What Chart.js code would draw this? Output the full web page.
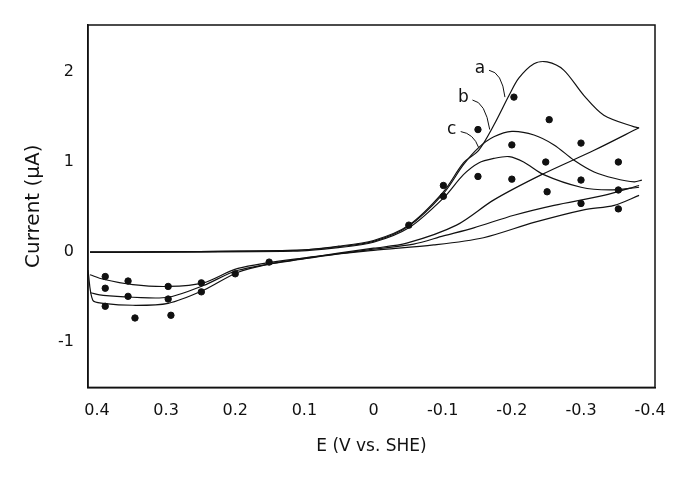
<!DOCTYPE html>
<html lang="en">
<head>
<meta charset="UTF-8">
<title>Voltammogram</title>
<script src="https://cdn.jsdelivr.net/npm/chart.js@4/dist/chart.umd.min.js"></script>
<style>
  body { margin: 0; background: #fff; }
  #wrap { width: 686px; height: 485px; }
</style>
</head>
<body>
<div id="wrap"><canvas id="myChart"></canvas></div>
<script>
// potentials (V vs. SHE) and currents (uA)
var aFwdE = [0.41, 0.116, 0.051, 0, -0.051, -0.101, -0.13, -0.152, -0.174, -0.196, -0.21, -0.232, -0.251, -0.275, -0.304, -0.333, -0.377, -0.384];
var aFwdI = [0, 0.02, 0.067, 0.13, 0.3, 0.67, 0.99, 1.13, 1.41, 1.74, 1.93, 2.09, 2.11, 2.02, 1.74, 1.52, 1.39, 1.38];
var aRevE = [-0.384, -0.319, -0.243, -0.174, -0.12, -0.048, 0, 0.051, 0.097, 0.145, 0.196, 0.246, 0.297, 0.348, 0.391, 0.406, 0.413];
var aRevI = [1.38, 1.13, 0.86, 0.58, 0.3, 0.1, 0.044, -0.011, -0.067, -0.122, -0.222, -0.422, -0.567, -0.589, -0.567, -0.533, -0.2];

var bFwdE = [0.41, 0.116, 0.051, 0, -0.051, -0.101, -0.13, -0.152, -0.174, -0.2, -0.232, -0.261, -0.29, -0.319, -0.348, -0.377, -0.388];
var bFwdI = [0, 0.02, 0.06, 0.12, 0.29, 0.65, 0.97, 1.16, 1.28, 1.34, 1.3, 1.19, 1.02, 0.89, 0.82, 0.78, 0.8];
var bRevE = [-0.384, -0.333, -0.261, -0.203, -0.145, -0.101, -0.058, 0, 0.097, 0.196, 0.246, 0.297, 0.348, 0.391, 0.41];
var bRevI = [0.74, 0.63, 0.52, 0.41, 0.27, 0.18, 0.09, 0.033, -0.07, -0.2, -0.37, -0.5, -0.5, -0.48, -0.45];

var cFwdE = [0.41, 0.116, 0.051, 0, -0.051, -0.101, -0.13, -0.152, -0.174, -0.196, -0.217, -0.246, -0.3, -0.341, -0.384];
var cFwdI = [0, 0.01, 0.05, 0.11, 0.27, 0.6, 0.86, 0.99, 1.04, 1.06, 1.0, 0.86, 0.72, 0.69, 0.72];
var cRevE = [-0.384, -0.348, -0.304, -0.232, -0.159, -0.087, 0, 0.097, 0.196, 0.246, 0.297, 0.348, 0.391, 0.41];
var cRevI = [0.63, 0.52, 0.47, 0.33, 0.16, 0.08, 0.02, -0.06, -0.18, -0.34, -0.38, -0.36, -0.3, -0.25];

var dotE = [-0.203, -0.254, -0.151, -0.2, -0.249, -0.3, -0.354, -0.151, -0.2, -0.251, -0.3, -0.354, -0.3, -0.354, -0.101, -0.101, -0.051,
            0.388, 0.355, 0.297, 0.249, 0.388, 0.355, 0.297, 0.249, 0.388, 0.345, 0.293, 0.2, 0.151];
var dotI = [1.72, 1.47, 1.36, 1.19, 1.0, 1.21, 1.0, 0.84, 0.81, 0.67, 0.8, 0.69, 0.54, 0.48, 0.74, 0.62, 0.3,
            -0.27, -0.32, -0.38, -0.34, -0.4, -0.49, -0.52, -0.44, -0.6, -0.73, -0.7, -0.24, -0.11];

var xTicks = [0.4, 0.3, 0.2, 0.1, 0, -0.1, -0.2, -0.3, -0.4];
var xTickLabels = ['0.4', '0.3', '0.2', '0.1', '0', '-0.1', '-0.2', '-0.3', '-0.4'];
var yTicks = [2, 1, 0, -1];
var yTickLabels = ['2', '1', '0', '-1'];

var curveLabels = ['a', 'b', 'c'];
var labelE = [-0.154, -0.13, -0.113];
var labelI = [2.04, 1.71, 1.36];
var leadE = [-0.19, -0.168, -0.152];
var leadI = [1.72, 1.36, 1.16];

function pts(xs, ys) {
  return xs.map(function (x, i) { return { x: x, y: ys[i] }; });
}
function line(xs, ys) {
  return { data: pts(xs, ys), showLine: true, borderColor: '#111', borderWidth: 1.2, pointRadius: 0, tension: 0.3 };
}

var labelPlugin = {
  id: 'curveLabels',
  afterDatasetsDraw: function (chart) {
    var ctx = chart.ctx, xs = chart.scales.x, ys = chart.scales.y, a = chart.chartArea;
    ctx.save();
    // frame around the plot
    ctx.strokeStyle = '#111';
    ctx.lineWidth = 1.5;
    ctx.strokeRect(a.left, a.top, a.right - a.left, a.bottom - a.top);
    ctx.font = '17px "DejaVu Sans"';
    ctx.fillStyle = '#111';
    ctx.lineWidth = 1;
    ctx.textAlign = 'center';
    ctx.textBaseline = 'middle';
    curveLabels.forEach(function (t, i) {
      var px = xs.getPixelForValue(labelE[i]), py = ys.getPixelForValue(labelI[i]);
      ctx.fillText(t, px, py);
      ctx.beginPath();
      ctx.moveTo(px + 9, py + 2);
      ctx.quadraticCurveTo(px + 22, py + 4, xs.getPixelForValue(leadE[i]), ys.getPixelForValue(leadI[i]));
      ctx.stroke();
    });
    ctx.restore();
  }
};

var datasets = [
  line(aFwdE, aFwdI), line(aRevE, aRevI),
  line(bFwdE, bFwdI), line(bRevE, bRevI),
  line(cFwdE, cFwdI), line(cRevE, cRevI),
  { data: pts(dotE, dotI), showLine: false, pointRadius: 3.2, backgroundColor: '#111', borderColor: '#111' }
];

new Chart(document.getElementById('myChart'), {
  type: 'scatter',
  data: { datasets: datasets },
  options: {
    responsive: true,
    maintainAspectRatio: false,
    animation: false,
    layout: { padding: { left: 18, right: 31, top: 25, bottom: 24 } },
    plugins: { legend: { display: false }, tooltip: { enabled: false } },
    scales: {
      x: {
        type: 'linear', reverse: true, min: -0.407, max: 0.413,
        grid: { display: false, drawTicks: true, tickLength: 6, tickColor: '#111' },
        border: { color: '#111', width: 1.5 },
        afterBuildTicks: function (s) { s.ticks = xTicks.map(function (v) { return { value: v }; }); },
        ticks: {
          color: '#111', font: { size: 16, family: 'DejaVu Sans' }, padding: 8,
          callback: function (v) { var i = xTicks.indexOf(v); return i < 0 ? '' : xTickLabels[i]; }
        },
        title: { display: true, text: 'E (V vs. SHE)', color: '#111', font: { size: 17, family: 'DejaVu Sans' }, padding: { top: 8 } }
      },
      y: {
        min: -1.5, max: 2.52,
        grid: { display: false, drawTicks: true, tickLength: 6, tickColor: '#111' },
        border: { color: '#111', width: 1.5 },
        afterBuildTicks: function (s) { s.ticks = yTicks.map(function (v) { return { value: v }; }); },
        ticks: {
          color: '#111', font: { size: 16, family: 'DejaVu Sans' }, padding: 8,
          callback: function (v) { var i = yTicks.indexOf(v); return i < 0 ? '' : yTickLabels[i]; }
        },
        title: { display: true, text: 'Current (μA)', color: '#111', font: { size: 20, family: 'DejaVu Sans' } }
      }
    }
  },
  plugins: [labelPlugin]
});
</script>
</body>
</html>
